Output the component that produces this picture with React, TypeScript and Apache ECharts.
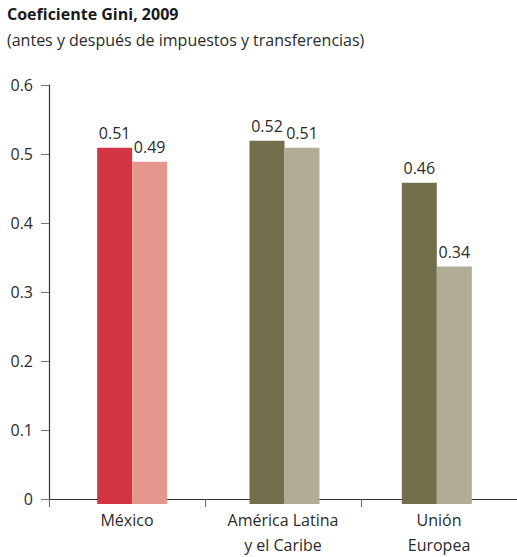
import React, { useEffect, useRef } from "react";
import * as echarts from "echarts";

const categories = ["México", "América Latina\ny el Caribe", "Unión\nEuropea"];
const antes = [0.51, 0.52, 0.46];
const despues = [0.49, 0.51, 0.34];
const antesColors = ["#D33545", "#736F4C", "#736F4C"];
const despuesColors = ["#E6978D", "#B1AC96", "#B1AC96"];
const yTicks = [0, 0.1, 0.2, 0.3, 0.4, 0.5, 0.6];

const FONT = "'Open Sans', 'Noto Sans', sans-serif";

export default function App() {
  const ref = useRef<HTMLDivElement>(null);
  useEffect(() => {
    if (!ref.current) return;
    const chart = echarts.init(ref.current, null, { renderer: "svg" });
    const labelStyle = {
      show: true,
      position: "top" as const,
      distance: 7,
      fontFamily: FONT,
      fontSize: 16,
      color: "#2b2b2b",
      formatter: (p: any) => p.value.toFixed(2),
    };
    chart.setOption({
      animation: false,
      textStyle: { fontFamily: FONT },
      graphic: [
        {
          type: "text",
          left: 7,
          top: 6,
          style: {
            text: "Coeficiente Gini, 2009",
            fontFamily: FONT,
            fontWeight: "bold",
            fontSize: 16,
            fill: "#1a1a1a",
          },
        },
        {
          type: "text",
          left: 7,
          top: 32,
          style: {
            text: "(antes y después de impuestos y transferencias)",
            fontFamily: FONT,
            fontSize: 16,
            fill: "#2b2b2b",
          },
        },
      ],
      grid: [
        { left: 49, right: 0, top: 85, bottom: 53 },
        { left: 56, right: 4, top: 85, bottom: 53 },
      ],
      xAxis: [
        {
          type: "category",
          gridIndex: 0,
          data: categories,
          axisLine: { show: true, lineStyle: { color: "#333", width: 1.2 } },
          axisTick: { show: true, length: 8, alignWithLabel: false, lineStyle: { color: "#666" } },
          axisLabel: {
            fontFamily: FONT,
            fontSize: 16,
            color: "#2b2b2b",
            lineHeight: 25,
            margin: 8,
          },
        },
        {
          type: "category",
          gridIndex: 1,
          data: categories,
          show: false,
        },
      ],
      yAxis: [
        {
          type: "value",
          gridIndex: 0,
          min: 0,
          max: 0.6,
          interval: 0.1,
          splitLine: { show: false },
          axisLine: { show: true, lineStyle: { color: "#333", width: 1.2 } },
          axisTick: { show: true, length: 8, lineStyle: { color: "#777" } },
          axisLabel: {
            fontFamily: FONT,
            fontSize: 16,
            color: "#2b2b2b",
            margin: 16,
            formatter: (v: number) => {
              const t = yTicks.find((x) => Math.abs(x - v) < 1e-9);
              const val = t === undefined ? v : t;
              return val === 0 ? "0" : val.toFixed(1);
            },
          },
        },
        {
          type: "value",
          gridIndex: 1,
          min: 0,
          max: 0.6,
          interval: 0.1,
          show: false,
          splitLine: { show: false },
        },
      ],
      series: [
        {
          name: "Antes",
          type: "bar",
          xAxisIndex: 1,
          yAxisIndex: 1,
          barWidth: 35,
          barGap: "0%",
          data: antes.map((v, i) => ({ value: v, itemStyle: { color: antesColors[i] } })),
          label: labelStyle,
        },
        {
          name: "Después",
          type: "bar",
          xAxisIndex: 1,
          yAxisIndex: 1,
          barWidth: 35,
          barGap: "0%",
          data: despues.map((v, i) => ({ value: v, itemStyle: { color: despuesColors[i] } })),
          label: labelStyle,
        },
      ],
    });
    return () => chart.dispose();
  }, []);
  return <div ref={ref} style={{ width: 517, height: 557, position: "absolute", left: 0, top: 0 }} />;
}
